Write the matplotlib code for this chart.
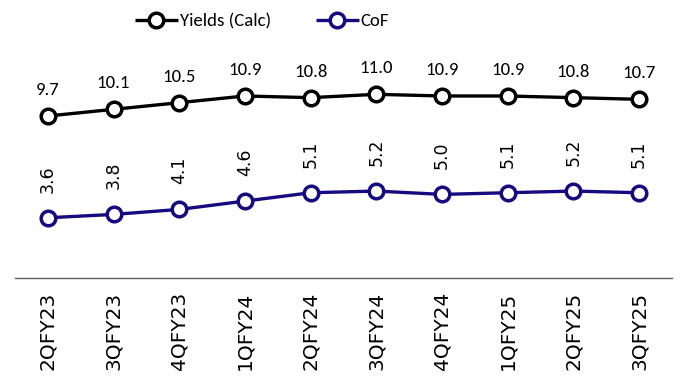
import matplotlib
matplotlib.use("Agg")
import matplotlib.pyplot as plt
from matplotlib import font_manager

quarters = ["2QFY23", "3QFY23", "4QFY23", "1QFY24", "2QFY24",
            "3QFY24", "4QFY24", "1QFY25", "2QFY25", "3QFY25"]
yields_calc = [9.7, 10.1, 10.5, 10.9, 10.8, 11.0, 10.9, 10.9, 10.8, 10.7]
cof = [3.6, 3.8, 4.1, 4.6, 5.1, 5.2, 5.0, 5.1, 5.2, 5.1]

# pick a Calibri-like narrow face for the legend and upper labels
installed = {f.name for f in font_manager.fontManager.ttflist}
narrow_font = next((n for n in ["Carlito", "Liberation Sans Narrow",
                                "Open Sans Condensed", "Roboto Condensed",
                                "PT Sans Narrow"] if n in installed), "DejaVu Sans")
narrow = [narrow_font, "DejaVu Sans"]

navy = "#150A80"

fig = plt.figure(figsize=(6.82, 3.79), dpi=100)
ax = fig.add_axes([15 / 682, 0.267, 657 / 682, 0.713])

x = list(range(len(quarters)))
line_kw = dict(lw=2.4, marker="o", markersize=10.5, markerfacecolor="white",
               markeredgewidth=2.5, solid_capstyle="butt", zorder=3)
ax.plot(x, yields_calc, color="black", label="Yields (Calc)", **line_kw)
ax.plot(x, cof, color=navy, label="CoF", **line_kw)

for xi, v in zip(x, yields_calc):
    ax.annotate(f"{v:.1f}", (xi, v), xytext=(0, 13), textcoords="offset points",
                ha="center", va="bottom", fontsize=13.5, family=narrow)
for xi, v in zip(x, cof):
    ax.annotate(f"{v:.1f}", (xi, v), xytext=(0, 18), textcoords="offset points",
                ha="center", va="bottom", rotation=90, fontsize=12.5,
                family="DejaVu Sans")

ax.set_xlim(-0.5, len(quarters) - 0.5)
ax.set_ylim(0, 16.2)
ax.set_xticks(x)
ax.set_xticklabels(quarters, rotation=90, fontsize=14.5, family="DejaVu Sans")
ax.tick_params(axis="x", length=0, pad=10)
ax.set_yticks([])
for side in ("top", "left", "right"):
    ax.spines[side].set_visible(False)
ax.spines["bottom"].set_color("#606060")
ax.spines["bottom"].set_linewidth(1.0)

fig.legend(loc="center", bbox_to_anchor=(262 / 682, 1 - 21 / 379), ncol=2,
           frameon=False, prop={"family": narrow, "size": 13.5},
           handlelength=2.3, handletextpad=0.1, columnspacing=2.4)

fig.savefig("out.png", dpi=100)
